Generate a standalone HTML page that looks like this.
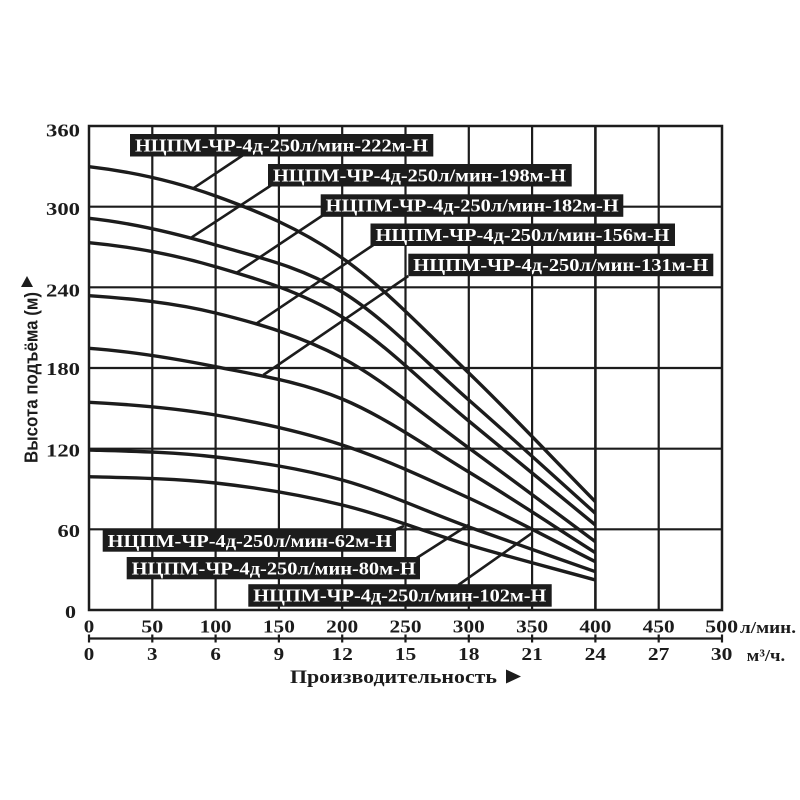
<!DOCTYPE html>
<html><head><meta charset="utf-8"><style>
html,body{margin:0;padding:0;background:#fff;}
svg{display:block;}
.t{font-family:"Liberation Serif",serif;font-weight:bold;fill:#1c1c1c;font-size:18px;}
.w{font-family:"Liberation Serif",serif;font-weight:bold;fill:#fff;font-size:18px;}
</style></head><body>
<svg width="800" height="800" viewBox="0 0 800 800" xmlns="http://www.w3.org/2000/svg">
<rect width="800" height="800" fill="#fff"/>
<g stroke="#1c1c1c" stroke-width="2.2" fill="none">
<line x1="152.3" y1="126" x2="152.3" y2="610"/>
<line x1="215.6" y1="126" x2="215.6" y2="610"/>
<line x1="278.9" y1="126" x2="278.9" y2="610"/>
<line x1="342.2" y1="126" x2="342.2" y2="610"/>
<line x1="405.5" y1="126" x2="405.5" y2="610"/>
<line x1="468.8" y1="126" x2="468.8" y2="610"/>
<line x1="532.1" y1="126" x2="532.1" y2="610"/>
<line x1="595.4" y1="126" x2="595.4" y2="610" stroke-width="2.6"/>
<line x1="658.7" y1="126" x2="658.7" y2="610"/>
<line x1="89" y1="206.7" x2="722" y2="206.7"/>
<line x1="89" y1="287.3" x2="722" y2="287.3"/>
<line x1="89" y1="368" x2="722" y2="368"/>
<line x1="89" y1="448.7" x2="722" y2="448.7"/>
<line x1="89" y1="529.3" x2="722" y2="529.3"/>
<rect x="89" y="126" width="633" height="484" stroke-width="2.5"/>
<line x1="89" y1="638.5" x2="722" y2="638.5"/>
<line x1="89" y1="634.5" x2="89" y2="642.5"/>
<line x1="152.3" y1="634.5" x2="152.3" y2="642.5"/>
<line x1="215.6" y1="634.5" x2="215.6" y2="642.5"/>
<line x1="278.9" y1="634.5" x2="278.9" y2="642.5"/>
<line x1="342.2" y1="634.5" x2="342.2" y2="642.5"/>
<line x1="405.5" y1="634.5" x2="405.5" y2="642.5"/>
<line x1="468.8" y1="634.5" x2="468.8" y2="642.5"/>
<line x1="532.1" y1="634.5" x2="532.1" y2="642.5"/>
<line x1="595.4" y1="634.5" x2="595.4" y2="642.5"/>
<line x1="658.7" y1="634.5" x2="658.7" y2="642.5"/>
<line x1="722" y1="634.5" x2="722" y2="642.5"/>
</g>
<g stroke="#1c1c1c" stroke-width="3.4" fill="none">
<path d="M89,166.7 C131.2,171.6 173.4,180.8 215.6,196 C257.8,211.2 300,228.5 342.2,258 C384.4,287.5 426.6,332.4 468.8,373 C511,413.6 553.2,458.8 595.4,501.7"/>
<path d="M89,218.3 C131.2,222.75 173.4,232.7 215.6,245 C257.8,257.3 300,266.2 342.2,292 C384.4,317.8 426.6,363.1 468.8,400 C511,436.9 553.2,475.5 595.4,513.3"/>
<path d="M89,242.7 C131.2,246.7 173.4,254.3 215.6,266.7 C257.8,279.1 300,291.3 342.2,317 C384.4,342.7 426.6,386.3 468.8,421 C511,455.7 553.2,490.3 595.4,525"/>
<path d="M89,295.7 C131.2,298.6 173.4,302.6 215.6,313 C257.8,323.4 300,335.5 342.2,358 C384.4,380.5 426.6,417.4 468.8,448 C511,478.6 553.2,510.5 595.4,541.7"/>
<path d="M89,348.3 C131.2,351.4 173.4,358.3 215.6,366.7 C257.8,375.2 300,381.5 342.2,399 C384.4,416.6 426.6,446.4 468.8,472 C511,497.6 553.2,525.8 595.4,552.7"/>
<path d="M89,402.3 C131.2,404.4 173.4,407.9 215.6,415 C257.8,422.1 300,431.2 342.2,445 C384.4,458.8 426.6,478.6 468.8,498 C511,517.5 553.2,540.5 595.4,561.7"/>
<path d="M89,450 C131.2,451.2 173.4,452 215.6,457 C257.8,462 300,468.3 342.2,480 C384.4,491.7 426.6,511.7 468.8,527 C511,542.3 553.2,556.8 595.4,571.7"/>
<path d="M89,476.7 C131.2,477.75 173.4,478.3 215.6,483 C257.8,487.7 300,494.7 342.2,505 C384.4,515.3 426.6,532.5 468.8,545 C511,557.5 553.2,568.3 595.4,580"/>
</g>
<g stroke="#1c1c1c" stroke-width="2.6" fill="none">
<line x1="193.3" y1="188.3" x2="243.3" y2="155"/>
<line x1="191.7" y1="237.3" x2="271.7" y2="185"/>
<line x1="236.7" y1="272.7" x2="323.3" y2="215"/>
<line x1="256.7" y1="323.3" x2="373.3" y2="245"/>
<line x1="263.3" y1="375" x2="408.3" y2="276"/>
<line x1="388" y1="533" x2="404" y2="526"/>
<line x1="416.7" y1="558" x2="468.3" y2="525"/>
<line x1="458.3" y1="585" x2="531.7" y2="533.3"/>
</g>
<g fill="#1c1c1c">
<rect x="130" y="134" width="303.3" height="22.5"/>
<rect x="268" y="164" width="303.7" height="22.5"/>
<rect x="320.7" y="194.3" width="302.6" height="22.5"/>
<rect x="370.5" y="223.5" width="304.5" height="22.5"/>
<rect x="408.3" y="253.7" width="305" height="22.5"/>
<rect x="102.7" y="530" width="293.3" height="21.7"/>
<rect x="126.7" y="557" width="293.3" height="22.3"/>
<rect x="248.3" y="584.2" width="303.4" height="22.5"/>
</g>
<text class="w" x="135" y="151.3" textLength="293" lengthAdjust="spacingAndGlyphs">НЦПМ-ЧР-4д-250л/мин-222м-Н</text>
<text class="w" x="273" y="181.3" textLength="293" lengthAdjust="spacingAndGlyphs">НЦПМ-ЧР-4д-250л/мин-198м-Н</text>
<text class="w" x="325.7" y="211.6" textLength="293" lengthAdjust="spacingAndGlyphs">НЦПМ-ЧР-4д-250л/мин-182м-Н</text>
<text class="w" x="375.5" y="240.8" textLength="294" lengthAdjust="spacingAndGlyphs">НЦПМ-ЧР-4д-250л/мин-156м-Н</text>
<text class="w" x="413.3" y="271" textLength="295" lengthAdjust="spacingAndGlyphs">НЦПМ-ЧР-4д-250л/мин-131м-Н</text>
<text class="w" x="107.7" y="547" textLength="284" lengthAdjust="spacingAndGlyphs">НЦПМ-ЧР-4д-250л/мин-62м-Н</text>
<text class="w" x="131.7" y="574.3" textLength="284" lengthAdjust="spacingAndGlyphs">НЦПМ-ЧР-4д-250л/мин-80м-Н</text>
<text class="w" x="253.3" y="601.5" textLength="293" lengthAdjust="spacingAndGlyphs">НЦПМ-ЧР-4д-250л/мин-102м-Н</text>
<g class="t" text-anchor="end">
<text x="80" y="136.5" textLength="34" lengthAdjust="spacingAndGlyphs">360</text>
<text x="80" y="215" textLength="34" lengthAdjust="spacingAndGlyphs">300</text>
<text x="80" y="296.5" textLength="34" lengthAdjust="spacingAndGlyphs">240</text>
<text x="80" y="375" textLength="34" lengthAdjust="spacingAndGlyphs">180</text>
<text x="80" y="456.5" textLength="34" lengthAdjust="spacingAndGlyphs">120</text>
<text x="80" y="537" textLength="22.5" lengthAdjust="spacingAndGlyphs">60</text>
<text x="76" y="618" textLength="11" lengthAdjust="spacingAndGlyphs">0</text>
</g>
<g class="t" text-anchor="middle">
<text x="89" y="632.3" textLength="10.5" lengthAdjust="spacingAndGlyphs">0</text>
<text x="152.3" y="632.3" textLength="22" lengthAdjust="spacingAndGlyphs">50</text>
<text x="215.6" y="632.3" textLength="32" lengthAdjust="spacingAndGlyphs">100</text>
<text x="278.9" y="632.3" textLength="32" lengthAdjust="spacingAndGlyphs">150</text>
<text x="342.2" y="632.3" textLength="32" lengthAdjust="spacingAndGlyphs">200</text>
<text x="405.5" y="632.3" textLength="32" lengthAdjust="spacingAndGlyphs">250</text>
<text x="468.8" y="632.3" textLength="32" lengthAdjust="spacingAndGlyphs">300</text>
<text x="532.1" y="632.3" textLength="32" lengthAdjust="spacingAndGlyphs">350</text>
<text x="595.4" y="632.3" textLength="32" lengthAdjust="spacingAndGlyphs">400</text>
<text x="658.7" y="632.3" textLength="32" lengthAdjust="spacingAndGlyphs">450</text>
<text x="721.7" y="632.3" textLength="33" lengthAdjust="spacingAndGlyphs">500</text>
<text x="89" y="660" textLength="10.5" lengthAdjust="spacingAndGlyphs">0</text>
<text x="152.3" y="660" textLength="10.5" lengthAdjust="spacingAndGlyphs">3</text>
<text x="215.6" y="660" textLength="10.5" lengthAdjust="spacingAndGlyphs">6</text>
<text x="278.9" y="660" textLength="10.5" lengthAdjust="spacingAndGlyphs">9</text>
<text x="342.2" y="660" textLength="21.5" lengthAdjust="spacingAndGlyphs">12</text>
<text x="405.5" y="660" textLength="21.5" lengthAdjust="spacingAndGlyphs">15</text>
<text x="468.8" y="660" textLength="21.5" lengthAdjust="spacingAndGlyphs">18</text>
<text x="532.1" y="660" textLength="21.5" lengthAdjust="spacingAndGlyphs">21</text>
<text x="595.4" y="660" textLength="21.5" lengthAdjust="spacingAndGlyphs">24</text>
<text x="658.7" y="660" textLength="21.5" lengthAdjust="spacingAndGlyphs">27</text>
<text x="721.7" y="660" textLength="21.5" lengthAdjust="spacingAndGlyphs">30</text>
</g>
<text class="t" x="740" y="633" textLength="56" lengthAdjust="spacingAndGlyphs" style="font-size:17px">л/мин.</text>
<text class="t" x="746.7" y="661" textLength="38.5" lengthAdjust="spacingAndGlyphs" style="font-size:17px">м³/ч.</text>
<text class="t" x="290" y="683" textLength="207" lengthAdjust="spacingAndGlyphs" style="font-size:19px">Производительность</text>
<polygon points="506,669.5 521,676.5 506,683.5" fill="#1c1c1c"/>
<text x="0" y="0" transform="translate(37.5,463) rotate(-90)" textLength="171" lengthAdjust="spacingAndGlyphs" style="font-family:'Liberation Sans',sans-serif;font-weight:bold;font-size:18px;fill:#1c1c1c">Высота подъёма (м)</text>
<polygon points="21,287 33,287 27,276" fill="#1c1c1c"/>
</svg>
</body></html>
